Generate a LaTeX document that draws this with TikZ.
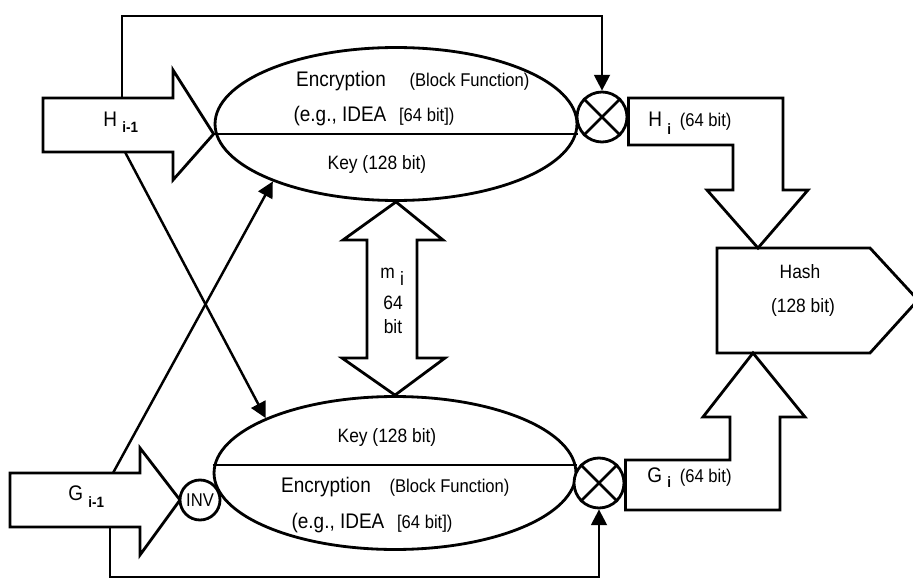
\documentclass[tikz,border=0pt]{standalone}
\usepackage{fontspec}
\setmainfont{Liberation Sans}[FakeStretch=0.9]
\usetikzlibrary{arrows.meta, positioning, calc, shapes}
\tikzset{
  blk/.style={draw, line width=1.6pt, fill=white, line join=miter},
  big/.style={inner sep=0pt, anchor=base, font=\fontsize{12}{14}\selectfont},
  mid/.style={inner sep=0pt, anchor=base, font=\fontsize{11}{13}\selectfont},
  sml/.style={inner sep=0pt, anchor=base, font=\fontsize{10.5}{12}\selectfont},
  xor/.style={circle, draw, line width=1.6pt, fill=white, minimum size=1cm, inner sep=0pt},
  enc/.style={ellipse, draw, line width=1.6pt, minimum width=7.24cm, minimum height=3.06cm, inner sep=0pt},
  fb/.style={line width=1.4pt, -{Triangle[length=9pt,width=9pt]}}
}
\newcommand{\lowsub}[2]{\hspace{3pt}\raisebox{#1}{\fontsize{8.5}{10}\selectfont\bfseries #2}}

\begin{document}
\begin{tikzpicture}[x=0.02cm, y=-0.02cm]
\useasboundingbox (0,0) rectangle (913,581);
\node[enc] (EH) at (396,124) {};
\node[enc] (EG) at (395,473) {};
\draw[line width=1.6pt] ([yshift=-0.2cm]EH.west) -- ([yshift=-0.2cm]EH.east);
\draw[line width=1.6pt] ([yshift=0.16cm]EG.west) -- ([yshift=0.16cm]EG.east);
\node[xor] (XH) at (602,117) {};
\node[xor] (XG) at (599,483) {};
\foreach \n in {XH,XG} {
  \draw[line width=1.6pt] (\n.45) -- (\n.225) (\n.135) -- (\n.315);
}
\draw[blk] (43,98) -- (173,98) -- (173,70) -- ([yshift=-0.2cm]EH.west) -- (173,180) -- (173,152) -- (43,152) -- cycle;
\draw[blk] (10,473) -- (140,473) -- (140,448) -- (180,500) -- (140,555) -- (140,527) -- (10,527) -- cycle;
\draw[blk] (EH.south) -- (443,240) -- (417,240) -- (417,358) -- (445,358) -- (EG.north) -- (342,358) -- (367,358) -- (367,240) -- (343,240) -- cycle;
\coordinate (HashTop) at (758,248);
\coordinate (HashBot) at (753,353);
\draw[blk] (717,248) -- (870,248) -- (918,300) -- (870,353) -- (717,353) -- cycle;
\draw[blk] (XH.east |- 0,98) -- (783,98) -- (783,190) -- (808,190) -- (HashTop) -- (707,190) -- (733,190) -- (733,145) -- (XH.east |- 0,145) -- cycle;
\draw[blk] (XG.east |- 0,510) -- (780,510) -- (780,417) -- (805,417) -- (HashBot) -- (703,417) -- (730,417) -- (730,460) -- (XG.east |- 0,460) -- cycle;
\node[circle, draw, fill=white, line width=1.6pt, minimum size=0.8cm, inner sep=0pt, font=\fontsize{10.5}{12}\selectfont] (INV) at (200,500) {INV};
\coordinate (HF) at (122,98);
\coordinate (HX) at (125,152);
\coordinate (GX) at (113,473);
\coordinate (GF) at (110,527);
\draw[fb] (HF) -- (122,16) -| (XH.north);
\draw[fb] (GF) -- (110,577) -| (XG.south);
\draw[fb] (HX) -- (EG.157);
\draw[fb] (GX) -- (EH.205);
\node[big, anchor=base west] (HIn) at (103,127) {H\lowsub{-3pt}{i-1}};
\node[big, anchor=base west] (GIn) at (68,500) {G\lowsub{-4pt}{i-1}};
\node[big] (EncTH) at (341,87) {Encryption};
\node[sml, right=0.46cm of EncTH.base east, anchor=base west] (BlkTH) {(Block Function)};
\node[big] (IdeaTH) at (340,122) {(e.g., IDEA};
\node[sml, right=0.24cm of IdeaTH.base east, anchor=base west] (BitTH) {[64 bit])};
\node[mid] (KeyTH) at (377,170) {Key (128 bit)};
\node[mid] (KeyTG) at (387,442) {Key (128 bit)};
\node[big] (EncTG) at (326,492) {Encryption};
\node[sml, right=0.36cm of EncTG.base east, anchor=base west] (BlkTG) {(Block Function)};
\node[big] (IdeaTG) at (338,528) {(e.g., IDEA};
\node[sml, right=0.24cm of IdeaTG.base east, anchor=base west] (BitTG) {[64 bit])};
\node[mid, anchor=base west] (MT) at (380,278) {m\hspace{3pt}\raisebox{-4pt}{i}};
\node[mid] (M64) at (393,309) {64};
\node[mid] (MBit) at (393,333) {bit};
\node[big, anchor=base west] (HOut) at (648,127) {H\lowsub{-4pt}{i}\hspace{5pt}{\fontsize{10.5}{12}\selectfont(64 bit)}};
\node[big, anchor=base west] (GOut) at (647,482) {G\lowsub{-3pt}{i}\hspace{5pt}{\fontsize{10.5}{12}\selectfont(64 bit)}};
\node[mid] (HashT) at (800,278) {Hash};
\node[mid] (HashB) at (803,312) {(128 bit)};
\end{tikzpicture}
\end{document}
